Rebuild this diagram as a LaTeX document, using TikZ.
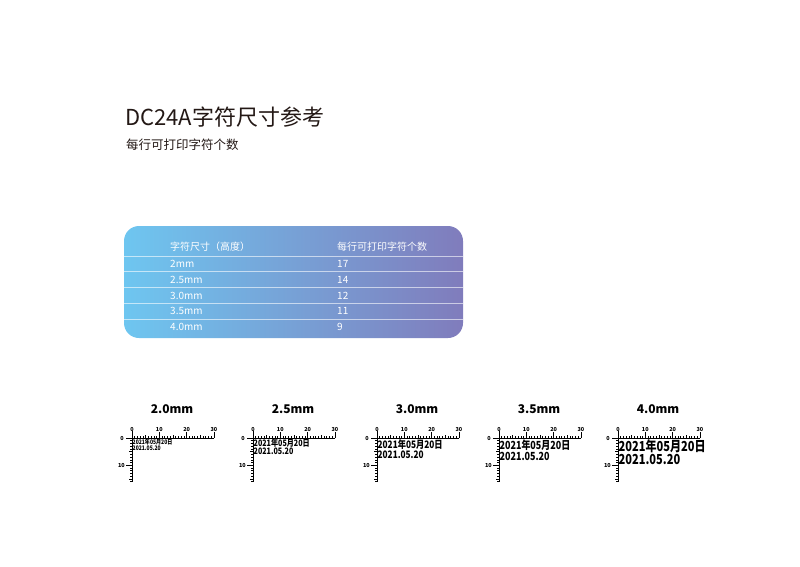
\documentclass[tikz,border=0pt]{standalone}
\usepackage{fontspec}
\setmainfont{Noto Sans CJK SC}
\usetikzlibrary{positioning}
\definecolor{tabblue}{RGB}{110,198,240}
\definecolor{tabpurple}{RGB}{128,124,188}
\definecolor{titleblack}{RGB}{35,24,21}
\tikzset{
  cell/.style={anchor=west,text=white,inner sep=0pt,font=\fontsize{10}{12}\selectfont},
  rowline/.style={white,opacity=0.6,line width=0.8pt},
  scalelabel/.style={inner sep=0pt,font=\bfseries\fontsize{5.5}{6}\selectfont},
  sizetitle/.style={inner sep=0pt,font=\bfseries\fontsize{12}{14}\selectfont},
  stamp/.style={anchor=west,inner sep=0pt},
  axis/.style={line width=1pt},
  tick/.style={line width=0.6pt}
}
\newcommand{\narrow}[1]{\scalebox{0.8}[1]{#1}}

\begin{document}
\begin{tikzpicture}[x=1pt,y=-1pt]
   \useasboundingbox (0,0) rectangle (800,566);
   \node [anchor=west,inner sep=0pt,text=titleblack,font=\fontsize{22}{26}\selectfont] (title) at (125,117) {DC24A字符尺寸参考}; % heading
   \node [anchor=west,inner sep=0pt,text=titleblack,font=\fontsize{12.5}{14}\selectfont] (subtitle) at (126,145) {每行可打印字符个数};
   % table
   \shade [left color=tabblue,right color=tabpurple,rounded corners=15pt] (124,226) rectangle (463,338);
   \foreach \y in {256,271,287,303,319}
      \draw [rowline] (124,\y) -- (463,\y);
   \node [cell] (head1) at (170,247) {字符尺寸（高度）};
   \node [cell] (head2) at (337,247) {每行可打印字符个数};
   \foreach \s/\n/\y [count=\i] in {2mm/17/264, 2.5mm/14/280, 3.0mm/12/296, 3.5mm/11/311, 4.0mm/9/327}{
      \node [cell] (size\i) at (170,\y) {\s};
      \node [cell] (count\i) at (337,\y) {\n};
   }
   % rulers
   \foreach \sz/\ox/\fs/\ya/\yb [count=\k] in {2.0/132/6.3/442/448, 2.5/253/8.9/442.7/450.8, 3.0/377/10.3/444.3/454.3, 3.5/499/11.2/445.7/456, 4.0/618/13.8/446.3/459.5}{
      \node [sizetitle] (head\k) at (\ox+40,409) {\sz mm};
      \draw [axis] (\ox-6,438) -- (\ox+30*2.73,438); % top scale
      \draw [axis] (\ox,431) -- (\ox,438+16*2.73); % side scale
      \foreach \t in {1,...,30}{
         \pgfmathsetmacro\tl{mod(\t,10)==0 ? 6 : (mod(\t,5)==0 ? 3.5 : 2)}
         \draw [tick] (\ox+\t*2.73,438) -- ++(0,-\tl);
      }
      \foreach \t in {1,...,16}{
         \pgfmathsetmacro\tl{mod(\t,10)==0 ? 6 : (mod(\t,5)==0 ? 3.5 : 2)}
         \draw [tick] (\ox,438+\t*2.73) -- ++(-\tl,0);
      }
      \foreach \v in {0,10,20,30}
         \node [scalelabel] (mark\k\v) at (\ox+\v*2.73,429) {\v};
      \node [scalelabel,anchor=east] (zero\k) at (\ox-8,438) {0};
      \node [scalelabel,anchor=east] (ten\k) at (\ox-7,438+27.3) {10};
      \node [stamp,font=\bfseries\fontsize{\fs}{\fs}\selectfont] (date\k) at (\ox+0.5,\ya) {\narrow{2021年05月20日}};
      \node [stamp,font=\bfseries\fontsize{\fs}{\fs}\selectfont] (day\k) at (\ox+0.5,\yb) {\narrow{2021.05.20}};
   }
\end{tikzpicture}
\end{document}
